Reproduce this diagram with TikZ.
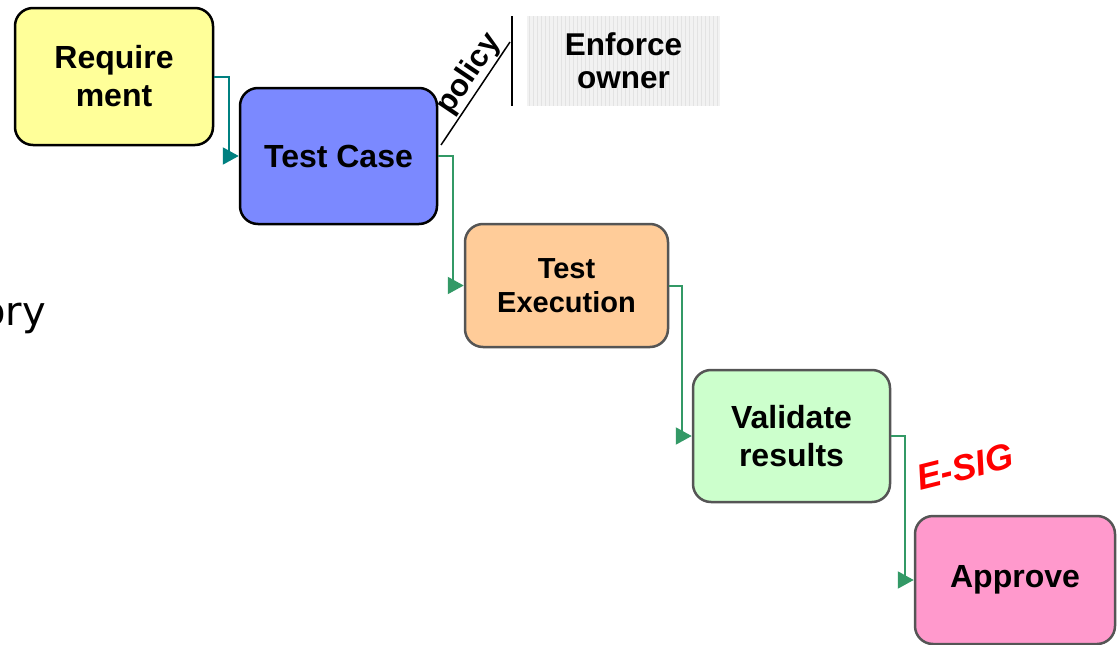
\documentclass[tikz,border=0pt]{standalone}
\usepackage{fontspec}
\setmainfont{Liberation Sans}
\newfontfamily\slidefont{DejaVu Sans}
\usepackage{tikz}
\usetikzlibrary{arrows, arrows.meta, calc}

\definecolor{reqyellow}{RGB}{255,255,153}
\definecolor{caseblue}{RGB}{123,137,255}
\definecolor{execorange}{RGB}{255,204,153}
\definecolor{valgreen}{RGB}{204,255,204}
\definecolor{apppink}{RGB}{255,153,204}
\definecolor{flowteal}{RGB}{0,128,128}
\definecolor{flowgreen}{RGB}{51,153,102}
\definecolor{boxgray}{RGB}{85,85,85}

\tikzset{
	stagebox/.style={draw=boxgray, line width=2.5, rounded corners=18, align=center,
		font=\bfseries\fontsize{32}{38}\selectfont, inner sep=0pt},
	flow/.style={draw=flowgreen, line width=2, -{Triangle[length=16pt,width=17pt]}}
}

\begin{document}
\begin{tikzpicture}[x=1pt,y=-1pt]
	\clip (0,0) rectangle (1120,645);
	
	%boxes
	\node[stagebox,draw=black,fill=reqyellow,minimum width=198,minimum height=137] (req) at (114,76.5) {Require\\ment};
	\node[stagebox,draw=black,fill=caseblue,minimum width=197,minimum height=136] (tc) at (338.5,156) {Test Case};
	\node[stagebox,fill=execorange,minimum width=203,minimum height=123,font=\bfseries\fontsize{29}{34}\selectfont] (te) at (566.5,285.5) {Test\\Execution};
	\node[stagebox,fill=valgreen,minimum width=197,minimum height=132] (vr) at (791.5,436) {Validate\\results};
	\node[stagebox,fill=apppink,minimum width=200,minimum height=128] (ap) at (1015,580) {Approve};
	
	%enforce owner
	\node[fill=gray!10,minimum width=193,minimum height=90,inner sep=0pt,align=center,
		font=\bfseries\fontsize{31.5}{33}\selectfont,
		path picture={\draw[gray!22,line width=0.3,step=4] (path picture bounding box.south west) grid (path picture bounding box.north east);}]
		(own) at (623.5,61) {Enforce\\owner};
	\coordinate (bar1) at (512,16);
	\coordinate (bar2) at (512,106);
	\draw[line width=1.5] (bar1) -- (bar2);
	\coordinate (pol1) at (441,145);
	\coordinate (pol2) at (510,42);
	\draw[line width=1.5] (pol1) -- (pol2);
	\node[rotate=56,anchor=south,inner sep=1.5pt,font=\bfseries\fontsize{31}{31}\selectfont] (pol) at ($(pol1)!0.6!(pol2)$) {policy};
	
	%arrows
	\draw[flow,draw=flowteal] (req.east) -- ++(15,0) |- (tc.west);
	\draw[flow] (tc.east) -- ++(15,0) |- (te.west);
	\draw[flow] (te.east) -- ++(13,0) |- (vr.west);
	\draw[flow] (vr.east) -- ++(14,0) |- (ap.west);
	
	%outside labels
	\node[text=red,rotate=14,font=\bfseries\itshape\fontsize{36}{36}\selectfont] (esig) at (965,467) {E-SIG};
	\node[anchor=base east,inner sep=0pt,font=\slidefont\fontsize{40}{40}\selectfont] (ory) at (46,325) {ory};
\end{tikzpicture}
\end{document}
